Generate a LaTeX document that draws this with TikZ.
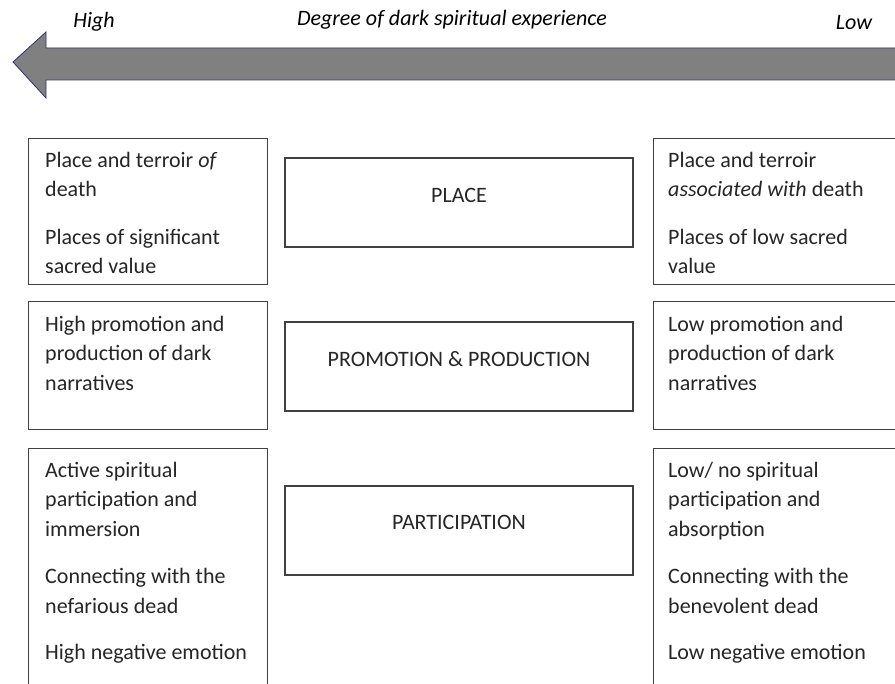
\documentclass[tikz,border=0pt]{standalone}
\usepackage{fontspec}
\setmainfont{Carlito}
\usetikzlibrary{positioning}

\tikzset{
  sidebox/.style={draw=black!75, line width=1.2pt, anchor=north west, inner sep=0pt},
  midbox/.style={draw=black!75, line width=1.2pt, minimum width=348pt, minimum height=89pt, inner sep=0pt},
  midtext/.style={inner sep=0pt, text=black!85, font=\fontsize{22}{29}\selectfont},
  boxtext/.style={anchor=north west, inner sep=0pt, align=left, text=black!85,
    font=\fontsize{22}{29.5}\selectfont},
  scaletext/.style={inner sep=0pt, font=\fontsize{22}{26}\selectfont\itshape}
}

\begin{document}
\begin{tikzpicture}[x=1pt, y=-1pt]
\clip (0,0) rectangle (895,684);
\fill[white] (0,0) rectangle (895,684);
% Arrow from low to high
    \draw[fill=black!50, draw=blue!30!black!80, line width=0.8pt]
      (13,62) -- (46,32) -- (46,48) -- (900,48) -- (900,80) -- (46,80) -- (46,98) -- cycle;
    \node[scaletext] (high) at (94,22) {High};
    \node[scaletext] (degree) at (452,20) {Degree of dark spiritual experience};
    \node[scaletext] (low) at (854,23) {Low};
% Left column
    \node[sidebox, minimum width=239pt, minimum height=146pt] (lplace) at (28,138) {};
    \node[sidebox, minimum width=239pt, minimum height=128pt] (lpromo) at (28,301) {};
    \node[sidebox, minimum width=239pt, minimum height=260pt] (lpart) at (28,448) {};
    \node[boxtext] (lplacetext) at ([xshift=17pt, yshift=-14pt]lplace.north west)
      {Place and terroir \textit{of}\\ death\\[18pt] Places of significant\\ sacred value};
    \node[boxtext] (lpromotext) at ([xshift=17pt, yshift=-15pt]lpromo.north west)
      {High promotion and\\ production of dark\\ narratives};
    \node[boxtext] (lparttext) at ([xshift=17pt, yshift=-14pt]lpart.north west)
      {Active spiritual\\ participation and\\ immersion\\[18pt] Connecting with the\\ nefarious dead\\[17pt] High negative emotion};
% Middle column
    \node[midbox] (mplace) at (459,202.5) {};
    \node[midbox] (mpromo) at (459,366.5) {};
    \node[midbox] (mpart) at (459,530.5) {};
    \node[midtext] (mplacetext) at ([yshift=7pt]mplace.center) {PLACE};
    \node[midtext] (mpromotext) at ([yshift=7pt]mpromo.center) {PROMOTION \& PRODUCTION};
    \node[midtext] (mparttext) at ([yshift=8pt]mpart.center) {PARTICIPATION};
% Right column
    \node[sidebox, minimum width=260pt, minimum height=146pt] (rplace) at (653,138) {};
    \node[sidebox, minimum width=260pt, minimum height=128pt] (rpromo) at (653,301) {};
    \node[sidebox, minimum width=260pt, minimum height=260pt] (rpart) at (653,448) {};
    \node[boxtext] (rplacetext) at ([xshift=15pt, yshift=-14pt]rplace.north west)
      {Place and terroir\\ \textit{associated with} death\\[18pt] Places of low sacred\\ value};
    \node[boxtext] (rpromotext) at ([xshift=15pt, yshift=-15pt]rpromo.north west)
      {Low promotion and\\ production of dark\\ narratives};
    \node[boxtext] (rparttext) at ([xshift=15pt, yshift=-14pt]rpart.north west)
      {Low/ no spiritual\\ participation and\\ absorption\\[18pt] Connecting with the\\ benevolent dead\\[17pt] Low negative emotion};
\end{tikzpicture}
\end{document}
